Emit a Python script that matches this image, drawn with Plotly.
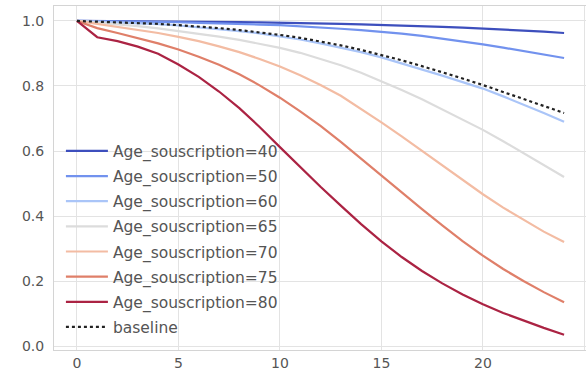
import plotly.graph_objects as go

# survival curves by subscription age (years 0..24)
years = list(range(25))

s40 = [1.000, 0.9998, 0.9995, 0.9992, 0.9988, 0.9984, 0.9979, 0.9973, 0.9966, 0.9958,
       0.995, 0.9938, 0.9925, 0.991, 0.9895, 0.988, 0.986, 0.984, 0.9817, 0.9795,
       0.977, 0.9738, 0.9705, 0.967, 0.963]
s50 = [1.000, 0.9995, 0.999, 0.998, 0.997, 0.996, 0.994, 0.993, 0.991, 0.989,
       0.987, 0.984, 0.980, 0.976, 0.972, 0.967, 0.961, 0.954, 0.946, 0.937,
       0.928, 0.918, 0.908, 0.897, 0.886]
s60 = [1.000, 0.998, 0.996, 0.993, 0.990, 0.986, 0.981, 0.976, 0.969, 0.962,
       0.953, 0.943, 0.931, 0.918, 0.904, 0.888, 0.870, 0.851, 0.832, 0.812,
       0.792, 0.768, 0.743, 0.717, 0.690]
s65 = [1.000, 0.995, 0.990, 0.984, 0.977, 0.969, 0.961, 0.952, 0.942, 0.930,
       0.917, 0.902, 0.884, 0.864, 0.841, 0.815, 0.788, 0.759, 0.728, 0.697,
       0.665, 0.630, 0.594, 0.557, 0.520]
s70 = [1.000, 0.991, 0.982, 0.973, 0.963, 0.951, 0.938, 0.922, 0.904, 0.883,
       0.860, 0.833, 0.803, 0.770, 0.730, 0.688, 0.645, 0.600, 0.555, 0.510,
       0.467, 0.426, 0.388, 0.352, 0.320]
s75 = [1.000, 0.978, 0.963, 0.948, 0.931, 0.912, 0.890, 0.865, 0.836, 0.802,
       0.764, 0.722, 0.677, 0.628, 0.576, 0.524, 0.472, 0.421, 0.371, 0.323,
       0.278, 0.237, 0.200, 0.166, 0.135]
s80 = [1.000, 0.950, 0.938, 0.921, 0.899, 0.866, 0.828, 0.783, 0.732, 0.674,
       0.612, 0.550, 0.490, 0.432, 0.375, 0.322, 0.274, 0.231, 0.193, 0.159,
       0.129, 0.102, 0.078, 0.056, 0.035]
baseline = [1.000, 0.998, 0.996, 0.994, 0.991, 0.987, 0.983, 0.978, 0.972, 0.965,
            0.957, 0.948, 0.937, 0.925, 0.911, 0.896, 0.879, 0.861, 0.843, 0.823,
            0.803, 0.782, 0.761, 0.739, 0.717]

ages = [40, 50, 60, 65, 70, 75, 80]
curves = [s40, s50, s60, s65, s70, s75, s80]
# coolwarm colormap sampled at 7 evenly spaced points
colors = ["#3d4fbd", "#7292ee", "#aac5f8", "#dcdcdc", "#f3bca3", "#df7f69", "#ab2343"]

x_ticks = [0, 5, 10, 15, 20, 25]
y_ticks = [0.0, 0.2, 0.4, 0.6, 0.8, 1.0]

FONT = "DejaVu Sans"

fig = go.Figure()
for age, ys, col in zip(ages, curves, colors):
    fig.add_trace(go.Scatter(
        x=years, y=ys, mode="lines",
        name=f"Age_souscription={age}", legendgroup=str(age),
        line=dict(color=col, width=2.2),
    ))
fig.add_trace(go.Scatter(
    x=years, y=baseline, mode="lines", name="baseline", legendgroup="baseline",
    line=dict(color="#222222", width=2.2, dash="dot"),
))

axis_common = dict(
    showgrid=True, gridcolor="#e3e3e3", gridwidth=1,
    zeroline=False, showline=True, linecolor="#d4d4d4", linewidth=1, mirror=True,
    ticks="", tickfont=dict(family=FONT, size=14, color="#555555"),
)

fig.update_layout(
    width=586, height=376,
    margin=dict(l=54, r=0, t=6, b=26, autoexpand=False),
    paper_bgcolor="white", plot_bgcolor="white",
    font=dict(family=FONT, size=14, color="#555555"),
    xaxis=dict(range=[-1.13, 25.08], tickvals=x_ticks,
               ticktext=[str(v) for v in x_ticks], **axis_common),
    yaxis=dict(range=[-0.012, 1.046], tickvals=y_ticks, ticklabelstandoff=6,
               ticktext=[f"{v:.1f}" for v in y_ticks], **axis_common),
    legend=dict(x=0.013, y=0.627, xanchor="left", yanchor="top",
                bgcolor="rgba(0,0,0,0)", tracegroupgap=2, itemwidth=42,
                font=dict(family=FONT, size=15.5, color="#555555")),
    showlegend=True,
)

fig.write_html("out.html")
